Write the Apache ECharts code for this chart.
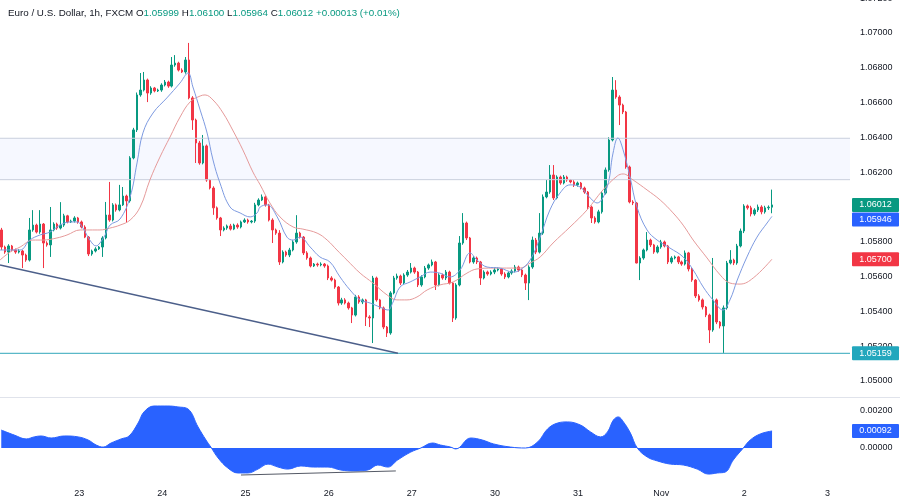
<!DOCTYPE html>
<html><head><meta charset="utf-8">
<script src="https://cdn.jsdelivr.net/npm/echarts@6/dist/echarts.min.js"></script>
<style>html,body{margin:0;padding:0;background:#fff}#c{width:900px;height:499px}</style>
</head><body><div id="c"></div>
<script>
// ---- data ----
const slotCount = 245;
const dayLabelIdx = [22,46,70,94,118,142,166,190,214,238];
const dayLabels = ['23','24','25','26','27','30','31','Nov','2','3'];
const legendParts = ['Euro / U.S. Dollar, 1h, FXCM','1.05999','1.06100','1.05964','1.06012','+0.00013 (+0.01%)'];
const topPartialTick = 1.072;
const firstOpen = 1.05868;
const closes = [
1.05770,1.05741,1.05776,1.05753,1.05741,1.05747,1.05724,1.05695,1.05868,1.05896,
1.05856,1.05902,1.05793,1.05782,1.05868,1.05902,1.05879,1.05896,1.05949,1.05914,
1.05919,1.05937,1.05914,1.05885,1.05827,1.05730,1.05747,1.05759,1.05770,1.05822,
1.05954,1.05925,1.06012,1.05983,1.06012,1.06063,1.06035,1.06282,1.06443,1.06644,
1.06672,1.06730,1.06655,1.06684,1.06667,1.06672,1.06701,1.06718,1.06695,1.06816,
1.06827,1.06787,1.06776,1.06845,1.06627,1.06500,1.06368,1.06253,1.06351,1.06155,
1.06109,1.05995,1.05937,1.05868,1.05879,1.05891,1.05873,1.05896,1.05885,1.05914,
1.05925,1.05914,1.05919,1.06012,1.06040,1.06058,1.06012,1.05925,1.05868,1.05850,
1.05684,1.05741,1.05724,1.05753,1.05799,1.05850,1.05827,1.05736,1.05707,1.05661,
1.05672,1.05667,1.05672,1.05661,1.05592,1.05580,1.05540,1.05448,1.05466,1.05448,
1.05420,1.05379,1.05483,1.05454,1.05466,1.05368,1.05362,1.05592,1.05466,1.05420,
1.05310,1.05276,1.05506,1.05592,1.05603,1.05563,1.05609,1.05626,1.05649,1.05626,
1.05552,1.05598,1.05649,1.05667,1.05684,1.05552,1.05609,1.05592,1.05626,1.05563,
1.05362,1.05552,1.05793,1.05908,1.05822,1.05684,1.05707,1.05684,1.05592,1.05626,
1.05615,1.05626,1.05638,1.05644,1.05615,1.05598,1.05621,1.05632,1.05655,1.05638,
1.05609,1.05563,1.05655,1.05810,1.05741,1.05850,1.06058,1.06086,1.06184,1.06052,
1.06172,1.06138,1.06172,1.06155,1.06144,1.06127,1.06138,1.06109,1.06086,1.06000,
1.05937,1.05914,1.05972,1.06080,1.06213,1.06385,1.06672,1.06632,1.06586,1.06546,
1.06230,1.06029,1.06023,1.05678,1.05707,1.05753,1.05810,1.05782,1.05741,1.05770,
1.05799,1.05776,1.05684,1.05707,1.05713,1.05684,1.05672,1.05736,1.05644,1.05580,
1.05489,1.05466,1.05425,1.05379,1.05293,1.05466,1.05339,1.05316,1.05420,1.05678,
1.05695,1.05678,1.05776,1.05862,1.06006,1.05995,1.05960,1.05983,1.06000,1.05972,
1.05995,1.05999,1.06012
];
// wick extents beyond the body, in points (1e-5)
const wickUp = [
12,8,10,6,8,10,6,8,69,86,
8,80,6,10,132,10,8,132,12,6,
8,10,6,8,10,6,8,10,6,10,
75,190,10,8,115,52,8,10,12,14,
98,46,8,10,6,8,10,12,8,46,
46,8,10,17,98,10,8,12,63,8,
6,10,8,6,10,8,12,8,10,8,
10,8,6,12,10,14,8,6,10,8,
17,10,8,12,10,103,8,6,10,8,
6,8,10,6,8,10,8,6,12,10,
8,6,12,10,8,6,10,12,8,6,
8,6,10,12,14,8,10,12,29,8,
6,10,12,8,14,6,10,8,12,8,
6,10,40,57,8,6,10,8,6,10,
8,10,12,8,6,10,8,10,12,8,
6,8,10,20,12,115,14,69,57,57,
10,8,12,8,6,10,8,6,8,6,
8,10,12,10,14,16,75,57,10,8,
6,8,10,6,10,8,46,8,6,10,
12,8,6,10,8,6,8,14,6,8,
6,10,8,6,8,241,8,6,14,12,
57,8,12,14,10,8,12,10,14,10,
12,10,88
];
const wickDown = [
17,10,63,8,10,8,75,10,8,10,
8,10,144,10,69,8,10,8,10,8,
6,8,10,8,6,12,10,8,6,57,
8,10,8,10,8,6,126,10,8,12,
10,8,52,10,8,6,10,8,10,8,
10,8,6,10,8,57,115,10,8,10,
8,40,10,35,8,10,8,6,10,8,
6,10,8,10,8,6,10,8,75,10,
17,8,10,12,8,10,8,12,10,8,
6,10,8,10,12,8,10,14,10,8,
10,46,8,10,12,52,52,144,10,8,
12,23,10,8,10,12,8,10,8,10,
12,10,8,10,8,29,8,10,12,8,
23,10,8,10,12,8,10,12,40,8,
10,8,12,8,10,12,8,10,8,10,
12,40,98,10,12,8,10,8,10,12,
8,10,8,10,8,12,10,8,10,12,
29,10,8,10,8,10,8,10,115,12,
10,8,12,2,98,10,8,12,10,8,
10,8,12,10,8,12,10,8,14,10,
12,10,14,12,75,10,12,14,155,10,
8,12,10,8,12,10,14,10,12,14,
10,12,35
];
const fastMA = [
[-0.5,1.05753],[2.4,1.05753],[5.3,1.05753],[8.1,1.05810],[11,1.05839],[13.9,1.05856],[16.8,1.05896],[19.7,1.05914],[21.7,1.05914],
[23.4,1.05879],[25.4,1.05810],[27.2,1.05776],[28.3,1.05793],[29.8,1.05839],[31.2,1.05896],[34.1,1.05931],[37,1.06058],[39,1.06253],
[40.7,1.06426],[43.6,1.06540],[47.6,1.06627],[51.4,1.06713],[53.7,1.06770],[55.1,1.06690],[57.2,1.06557],[59.2,1.06425],[60.9,1.06270],
[62.9,1.06138],[65.8,1.06000],[68.7,1.05966],[71.6,1.05943],[73.6,1.05966],[74.5,1.06000],[76.5,1.06012],[79.4,1.05943],[82.2,1.05827],
[84,1.05810],[86,1.05827],[88.9,1.05770],[91.7,1.05713],[94.6,1.05684],[97.5,1.05598],[100.4,1.05523],[103.3,1.05466],[106.2,1.05448],
[109,1.05425],[111.3,1.05408],[112.8,1.05454],[114.8,1.05540],[117.7,1.05569],[120.6,1.05598],[123.5,1.05626],[126.3,1.05620],[129.2,1.05598],
[132.1,1.05638],[135,1.05736],[137,1.05695],[139.9,1.05655],[143.6,1.05649],[147.4,1.05626],[149.4,1.05638],[152.3,1.05695],[155.2,1.05827],
[158,1.05983],[160.9,1.06080],[163.8,1.06127],[166.7,1.06115],[169.6,1.06052],[171.6,1.06023],[174.5,1.06115],[176.2,1.06310],[177.6,1.06397],
[179.1,1.06328],[181.1,1.06172],[183.1,1.06000],[186,1.05868],[188.9,1.05810],[192.6,1.05764],[196.4,1.05713],[199.3,1.05638],[202.2,1.05540],
[205,1.05466],[207.9,1.05408],[209.9,1.05466],[212,1.05580],[214.8,1.05713],[217.7,1.05827],[220.6,1.05908],[222,1.05946]
];
const slowMA = [
[-0.5,1.05695],[2.4,1.05741],[5.3,1.05770],[9,1.05810],[11.9,1.05810],[15.9,1.05822],[18.8,1.05839],[22.6,1.05868],[25.4,1.05868],
[28.3,1.05868],[31.2,1.05879],[34.1,1.05896],[37,1.05925],[39.9,1.06000],[42.7,1.06155],[45.6,1.06287],[48.5,1.06402],[51.4,1.06517],
[54.3,1.06604],[57.2,1.06638],[58.6,1.06644],[60.9,1.06615],[63.8,1.06540],[66.7,1.06437],[69.5,1.06328],[72.4,1.06201],[74.5,1.06127],
[77.3,1.06023],[80.2,1.05943],[84,1.05885],[86.8,1.05873],[90.9,1.05850],[93.8,1.05810],[96.6,1.05753],[99.5,1.05695],[103.3,1.05620],
[107,1.05563],[111.1,1.05494],[113.9,1.05466],[116.8,1.05466],[119.7,1.05483],[122.6,1.05523],[126.3,1.05552],[130.1,1.05569],[134.1,1.05620],
[137,1.05644],[141.6,1.05649],[149.4,1.05649],[152.3,1.05678],[155.2,1.05713],[158.9,1.05793],[163.8,1.05885],[168.7,1.05983],[173.3,1.06098],
[177.4,1.06178],[179.1,1.06190],[182,1.06155],[186,1.06098],[189.8,1.06040],[193.5,1.05966],[196.4,1.05896],[199.3,1.05810],[203.3,1.05707],
[207.1,1.05609],[209.9,1.05563],[212.8,1.05557],[216.6,1.05592],[222,1.05700]
];
const oscValues = [
[-0.5,0.00097],[3.25,0.00070],[6.7,0.00049],[9,0.00060],[11,0.00065],[13.9,0.00054],[17.7,0.00065],[21.7,0.00060],[24.6,0.00043],
[26.9,0.00016],[28.9,0.00005],[31.2,0.00027],[34.1,0.00049],[36.4,0.00065],[39,0.00135],[40.7,0.00195],[43.6,0.00227],[47.6,0.00227],
[50.5,0.00222],[53.4,0.00211],[56.3,0.00114],[58.6,0.00043],[60,0.00005],[62.1,-0.00054],[64.9,-0.00108],[67.8,-0.00135],[70.7,-0.00135],
[73.6,-0.00114],[76.5,-0.00087],[79.4,-0.00103],[82.2,-0.00114],[86,-0.00097],[89.7,-0.00103],[93.8,-0.00103],[97.5,-0.00119],[101.3,-0.00124],
[105.3,-0.00119],[108.2,-0.00092],[111.1,-0.00103],[113.9,-0.00065],[117.7,-0.00022],[120.6,0],[124,0.00027],[126.3,0.00016],[129.2,0.00005],
[130.7,-0.00005],[135,0.00054],[138.4,0.00043],[141.6,0.00022],[146.5,0.00005],[150.8,0],[154.3,0.00032],[157.2,0.00103],[160.1,0.00135],
[163,0.00141],[166.7,0.00124],[169.6,0.00087],[172.5,0.00060],[174.5,0.00087],[176.2,0.00151],[177.6,0.00168],[179.1,0.00141],[181.1,0.00081],
[183.1,0],[186,-0.00049],[188.9,-0.00070],[192.6,-0.00087],[196.4,-0.00092],[200.4,-0.00114],[203.6,-0.00141],[206.2,-0.00135],[208.5,-0.00130],
[210.8,-0.00065],[213.7,0],[215.7,0.00043],[218.6,0.00076],[222,0.00092]
];
const trendLine = [[-0.5,1.05667],[114.2,1.05159]];
const oscTrend = [[68.7,-0.00146],[113.4,-0.00124]];
const supportLevel = 1.05159;
const zoneTop = 1.06395, zoneBottom = 1.06157;

// ---- build ----
const cats = Array.from({length: slotCount}, (_, i) => String(i));
const candles = closes.map((c, i) => {
  const o = i === 0 ? firstOpen : closes[i - 1];
  return [o, c, Math.min(o, c) - wickDown[i] * 1e-5, Math.max(o, c) + wickUp[i] * 1e-5];
});
const labelMap = {};
dayLabelIdx.forEach((k, j) => labelMap[k] = dayLabels[j]);
const xL = -0.5, xR = slotCount - 0.5;
const hLine = v => [[xL, v], [xR, v]];

const FONT = 'Liberation Sans';
const chart = echarts.init(document.getElementById('c'), null, {renderer: 'canvas'});
chart.setOption({
  animation: false,
  backgroundColor: '#ffffff',
  title: {
    left: 3, top: 3,
    text: '{n|' + legendParts[0] + '} {n|O}{g|' + legendParts[1] + '} {n|H}{g|' + legendParts[2] + '} {n|L}{g|' + legendParts[3] + '} {n|C}{g|' + legendParts[4] + '} {g|' + legendParts[5] + '}',
    textStyle: {
      fontFamily: FONT, fontSize: 10, fontWeight: 'normal',
      rich: {
        n: {color: '#131722', fontFamily: FONT, fontSize: 9.8},
        g: {color: '#089981', fontFamily: FONT, fontSize: 9.8}
      }
    }
  },
  grid: [
    {left: 0, right: 50, top: 0, height: 397},
    {left: 0, right: 50, top: 374, height: 111}
  ],
  xAxis: [
    {type: 'category', gridIndex: 0, data: cats, show: false, boundaryGap: true},
    {type: 'value', gridIndex: 0, min: xL, max: xR, show: false},
    {type: 'category', gridIndex: 1, data: cats, boundaryGap: true,
     axisLine: {show: false}, axisTick: {show: false}, splitLine: {show: false},
     axisLabel: {interval: 0, margin: 4, color: '#131722', fontFamily: FONT, fontSize: 9,
       formatter: (v, i) => labelMap[i] || ''}},
    {type: 'value', gridIndex: 1, min: xL, max: xR, show: false}
  ],
  yAxis: [
    {type: 'value', gridIndex: 0, position: 'right', min: 1.04908, max: 1.071897,
     minInterval: 0.002, maxInterval: 0.002, splitNumber: 11,
     splitLine: {show: false}, axisLine: {show: false}, axisTick: {show: false},
     axisLabel: {margin: 10, color: '#131722', fontFamily: FONT, fontSize: 9, showMinLabel: false, showMaxLabel: false,
       formatter: v => (v < 1.0499 || v > 1.0719) ? '' : v.toFixed(5)}},
    {type: 'value', gridIndex: 1, position: 'right', min: -0.002, max: 0.004, interval: 0.002,
     splitLine: {show: false}, axisLine: {show: false}, axisTick: {show: false},
     axisLabel: {margin: 10, color: '#131722', fontFamily: FONT, fontSize: 9,
       formatter: v => (v < -1e-9 || v > 0.0021) ? '' : Math.abs(v).toFixed(5)}}
  ],
  series: [
    {type: 'line', xAxisIndex: 1, yAxisIndex: 0, data: hLine(zoneTop), showSymbol: false, silent: true,
     lineStyle: {color: '#c9cfdd', width: 1},
     markArea: {silent: true, itemStyle: {color: 'rgba(41,98,255,0.045)'},
       data: [[{yAxis: zoneBottom}, {yAxis: zoneTop}]]}},
    {type: 'line', xAxisIndex: 1, yAxisIndex: 0, data: hLine(zoneBottom), showSymbol: false, silent: true,
     lineStyle: {color: '#c9cfdd', width: 1}},
    {type: 'line', xAxisIndex: 1, yAxisIndex: 0, data: hLine(supportLevel), showSymbol: false, silent: true,
     lineStyle: {color: '#5ab8c8', width: 1.2}},
    {
      type: 'candlestick', xAxisIndex: 0, yAxisIndex: 0, data: candles, barWidth: 2,
      itemStyle: {color: '#089981', color0: '#f23645', borderColor: '#089981', borderColor0: '#f23645', borderWidth: 1}
    },
    {type: 'line', xAxisIndex: 1, yAxisIndex: 0, data: slowMA, smooth: 0.4, showSymbol: false,
     lineStyle: {color: '#e59a9a', width: 1}},
    {type: 'line', xAxisIndex: 1, yAxisIndex: 0, data: fastMA, smooth: 0.4, showSymbol: false,
     lineStyle: {color: '#7d9ae0', width: 1}},
    {type: 'line', xAxisIndex: 1, yAxisIndex: 0, data: trendLine, showSymbol: false,
     lineStyle: {color: '#4c5f8a', width: 1.5}},
    {type: 'line', xAxisIndex: 3, yAxisIndex: 1, data: oscValues, smooth: 0.4, showSymbol: false,
     lineStyle: {color: '#2962ff', width: 1}, areaStyle: {color: '#2962ff', opacity: 1, origin: 0}},
    {type: 'line', xAxisIndex: 3, yAxisIndex: 1, data: oscTrend, showSymbol: false,
     lineStyle: {color: '#555a66', width: 1}}
  ]
});

// price tags on the right axis
const tags = [
  {v: closes[closes.length - 1], c: '#089981', axis: 0},
  {v: fastMA[fastMA.length - 1][1], c: '#2962ff', axis: 0},
  {v: slowMA[slowMA.length - 1][1], c: '#f23645', axis: 0},
  {v: supportLevel, c: '#22a7bd', axis: 0},
  {v: oscValues[oscValues.length - 1][1], c: '#2962ff', axis: 1}
];
const items = tags.map(t => Object.assign({}, t, {y: chart.convertToPixel({yAxisIndex: t.axis}, t.v)}));
items.sort((a, b) => a.y - b.y);
for (let k = 1; k < items.length; k++) {
  if (items[k].axis === items[k - 1].axis && items[k].y - items[k - 1].y < 14.5) items[k].y = items[k - 1].y + 14.5;
}
const gfx = [{type: 'line', shape: {x1: 0, y1: 397.5, x2: 900, y2: 397.5}, style: {stroke: '#e0e3eb', lineWidth: 1}, z: 50}];
const yTop = chart.convertToPixel({yAxisIndex: 0}, topPartialTick);
gfx.push({type: 'text', x: 860, y: yTop, style: {text: topPartialTick.toFixed(5), fill: '#131722', font: '9px "' + FONT + '"', textAlign: 'left', textVerticalAlign: 'middle'}, z: 60});
items.forEach(t => {
  gfx.push({type: 'rect', shape: {x: 852, y: t.y - 7, width: 47, height: 14, r: 1}, style: {fill: t.c}, z: 100});
  gfx.push({type: 'text', x: 875.5, y: t.y, style: {text: t.v.toFixed(5), fill: '#ffffff', font: '9px "' + FONT + '"', textAlign: 'center', textVerticalAlign: 'middle'}, z: 101});
});
chart.setOption({graphic: gfx});
</script>
</body></html>
